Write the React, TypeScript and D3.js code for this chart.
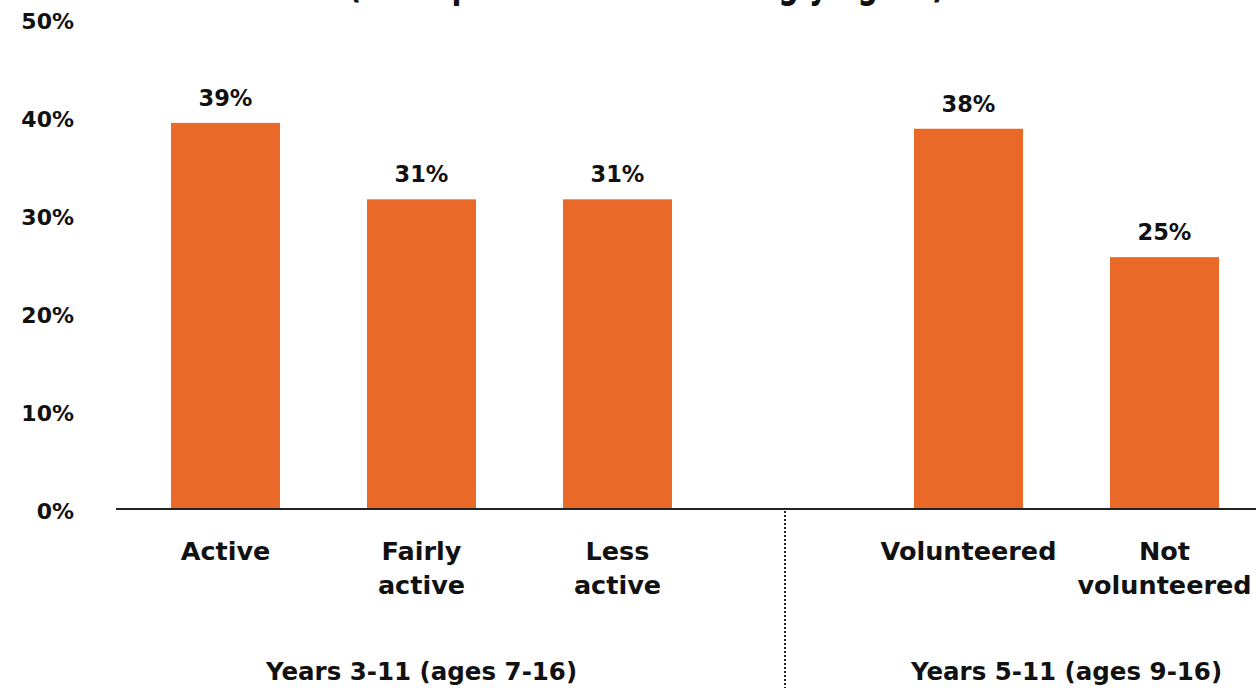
import React from "react";
import * as d3 from "d3";

const leftCategories = ["Active", "Fairly active", "Less active"];
const leftValues = [39.4, 31.6, 31.6];
const leftLabels = ["39%", "31%", "31%"];
const rightCategories = ["Volunteered", "Not volunteered"];
const rightValues = [38.8, 25.7];
const rightLabels = ["38%", "25%"];
const groupNames = ["Years 3-11 (ages 7-16)", "Years 5-11 (ages 9-16)"];
const yTicks = [0, 10, 20, 30, 40, 50];
const titleLine = "(% respondents who strongly agree)";

const catLines: Record<string, string[]> = {
  Active: ["Active"],
  "Fairly active": ["Fairly", "active"],
  "Less active": ["Less", "active"],
  Volunteered: ["Volunteered"],
  "Not volunteered": ["Not", "volunteered"],
};

const W = 1256;
const H = 688;
const FONT = "'DejaVu Sans', 'Open Sans', sans-serif";
const ORANGE = "#EA6828";
const INK = "#111";

export default function App() {
  const y = d3.scaleLinear().domain([0, 50]).range([509, 19]);
  const xLeft = d3.scaleBand<string>().domain(leftCategories).range([127.5, 715.5]).paddingInner(0.444).paddingOuter(0.222);
  const xRight = d3.scaleBand<string>().domain(rightCategories).range([870.5, 1262.5]).paddingInner(0.444).paddingOuter(0.222);

  const groups = [
    { cats: leftCategories, vals: leftValues, labs: leftLabels, x: xLeft, name: groupNames[0] },
    { cats: rightCategories, vals: rightValues, labs: rightLabels, x: xRight, name: groupNames[1] },
  ];
  const dividerX = 785;

  return (
    <svg width={W} height={H} style={{ position: "absolute", left: 0, top: 0, display: "block" }} fontFamily={FONT}>
      <rect width={W} height={H} fill="#fff" />
      <text x={348} y={-3} fontSize={40} fontWeight={700} fill={INK} textLength={597} lengthAdjust="spacingAndGlyphs">{titleLine}</text>
      {yTicks.map((t) => (
        <text key={t} x={74} y={y(t) + 2} dy="0.36em" textAnchor="end" fontSize={22} fontWeight={700} fill={INK}>
          {t}%
        </text>
      ))}
      {groups.map((g, gi) => {
        const bw = g.x.bandwidth();
        return (
          <g key={gi}>
            {g.cats.map((c, i) => {
              const x0 = g.x(c)!;
              const cx = x0 + bw / 2;
              const lines = catLines[c];
              return (
                <g key={c}>
                  <rect x={x0} y={y(g.vals[i])} width={bw} height={y(0) - y(g.vals[i])} fill={ORANGE} />
                  <text x={cx} y={y(g.vals[i]) - 25} dy="0.36em" textAnchor="middle" fontSize={22.5} fontWeight={700} fill={INK}>
                    {g.labs[i]}
                  </text>
                  {lines.map((l, li) => (
                    <text key={li} x={cx} y={551 + li * 34} dy="0.36em" textAnchor="middle" fontSize={25.5} fontWeight={700} fill={INK}>
                      {l}
                    </text>
                  ))}
                </g>
              );
            })}
            <text x={(g.x(g.cats[0])! + g.x(g.cats[g.cats.length - 1])! + bw) / 2} y={671} dy="0.36em" textAnchor="middle" fontSize={24.5} fontWeight={700} fill={INK}>
              {g.name}
            </text>
          </g>
        );
      })}
      <line x1={116} x2={W} y1={y(0)} y2={y(0)} stroke="#222" strokeWidth={2} />
      <line x1={dividerX} x2={dividerX} y1={y(0) + 2} y2={H} stroke="#222" strokeWidth={2} strokeDasharray="2,2" />
    </svg>
  );
}
